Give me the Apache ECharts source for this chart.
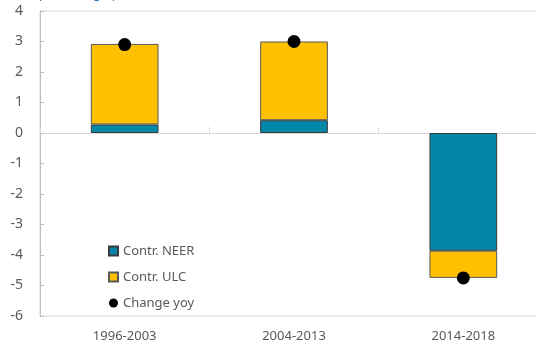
<!DOCTYPE html>
<html>
<head>
<meta charset="utf-8">
<script src="https://cdn.jsdelivr.net/npm/echarts@6/dist/echarts.min.js"></script>
<style>html,body{margin:0;padding:0;background:#fff}#c{width:536px;height:347px}</style>
</head>
<body>
<div id="c"></div>
<script>
const categories = ['1996-2003', '2004-2013', '2014-2018'];
const contrNEER = [0.28, 0.42, -3.86];
const contrULC = [2.64, 2.58, -0.89];
const changeYoy = [2.9, 3.0, -4.75];
const yTicks = { min: -6, max: 4, interval: 1 };

const font = 'Noto Sans';
const chart = echarts.init(document.getElementById('c'), null, { renderer: 'canvas' });
chart.setOption({
  animation: false,
  backgroundColor: '#fff',
  title: {
    text: '(percentage points)',
    left: 30, top: -17,
    textStyle: { color: '#2e75b6', fontSize: 13, fontWeight: 'normal', fontFamily: font }
  },
  grid: { left: 40, width: 508, top: 11, bottom: 31, outerBoundsMode: 'none', containLabel: false, show: true, borderColor: '#d9d9d9', borderWidth: 1, backgroundColor: 'transparent' },
  legend: {
    orient: 'vertical', left: 103, top: 239, itemGap: 12, itemWidth: 9, itemHeight: 9,
    textStyle: { color: '#595959', fontSize: 13, fontFamily: font, lineHeight: 14 },
    data: [
      { name: 'Contr. NEER', icon: 'rect' },
      { name: 'Contr. ULC', icon: 'rect' },
      { name: 'Change yoy', icon: 'circle' }
    ]
  },
  xAxis: [
    {
      type: 'category', data: categories, position: 'bottom',
      axisLine: { onZero: true, lineStyle: { color: '#d9d9d9', width: 1 } },
      axisTick: { show: true, inside: true, length: 6, alignWithLabel: false, lineStyle: { color: '#d9d9d9' } },
      axisLabel: { show: false }
    },
    {
      type: 'category', data: categories, position: 'bottom',
      axisLine: { show: false, onZero: false },
      axisTick: { show: false },
      axisLabel: { color: '#595959', fontSize: 13, fontFamily: font, margin: 14 }
    }
  ],
  yAxis: {
    type: 'value', min: yTicks.min, max: yTicks.max, interval: yTicks.interval,
    axisLine: { show: true, lineStyle: { color: '#bfbfbf' } },
    axisTick: { show: true, inside: true, length: 4, lineStyle: { color: '#bfbfbf' } },
    splitLine: { show: false },
    axisLabel: { color: '#595959', fontSize: 14, fontFamily: font, margin: 17 }
  },
  series: [
    {
      name: 'Contr. NEER', type: 'bar', stack: 'a', barWidth: '40%', xAxisIndex: 0, data: contrNEER,
      itemStyle: { color: '#0387a8', borderColor: '#3a3a3a', borderWidth: 1 }
    },
    {
      name: 'Contr. ULC', type: 'bar', stack: 'a', barWidth: '40%', xAxisIndex: 0, data: contrULC,
      itemStyle: { color: '#ffc000', borderColor: '#595959', borderWidth: 1 }
    },
    {
      name: 'Change yoy', type: 'scatter', xAxisIndex: 0, data: changeYoy, symbolSize: 13, z: 5,
      itemStyle: { color: '#000', opacity: 1 }
    }
  ]
});
</script>
</body>
</html>
